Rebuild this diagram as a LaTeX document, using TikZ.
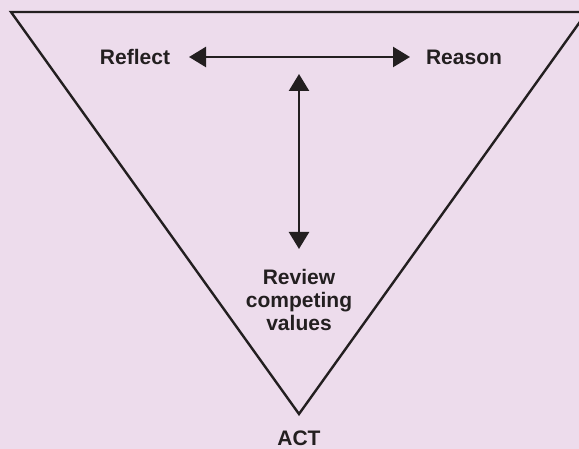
\documentclass[tikz,border=0pt]{standalone}
\usepackage{fontspec}
\setmainfont{Liberation Sans}
\usetikzlibrary{arrows.meta}
\definecolor{bg}{RGB}{237,220,236}
\definecolor{ink}{RGB}{35,31,32}
\begin{document}
\begin{tikzpicture}[x=1pt,y=-1pt,
  lbl/.style={font=\bfseries\fontsize{21}{23}\selectfont, text=ink, align=center, inner sep=0pt},
  edge/.style={draw=ink, line width=2.4pt, line join=miter},
  dbl/.style={draw=ink, line width=2.4pt, {Triangle[length=17pt,width=20pt]}-{Triangle[length=17pt,width=20pt]}}]
\fill[bg] (0,0) rectangle (579,449);
\useasboundingbox (0,0) rectangle (579,449);
\begin{scope}
\clip (0,0) rectangle (579,449);
\draw[edge] (11,12) -- (587,12) -- (299,414) -- cycle;
\end{scope}
\node[lbl] (reflect) at (135,57) {Reflect};
\node[lbl] (reason) at (464,57) {Reason};
\node[lbl] (review) at (299,300) {Review\\competing\\values};
\node[lbl] (act) at (299,438) {ACT};
\coordinate (hl) at (189,57);
\coordinate (hr) at (410,57);
\coordinate (vt) at (299,74);
\coordinate (vb) at (299,249);
\draw[dbl] (hl) -- (hr);
\draw[dbl] (vt) -- (vb);
\end{tikzpicture}
\end{document}
